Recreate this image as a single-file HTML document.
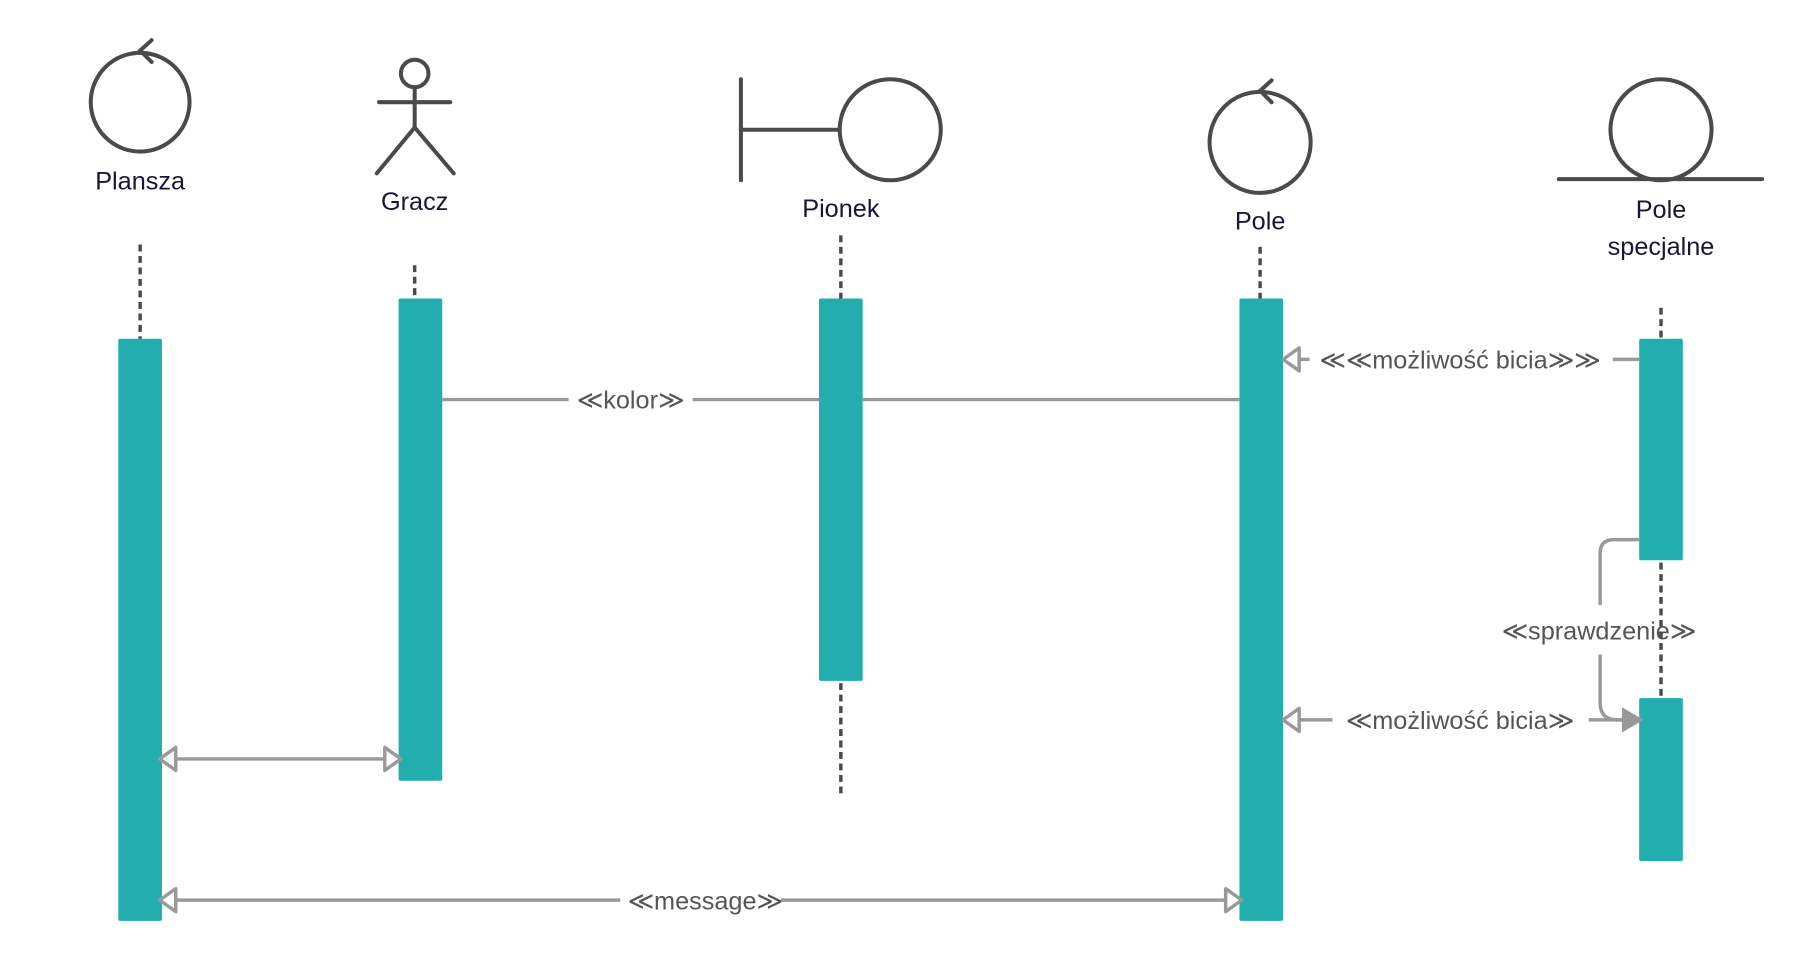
<!DOCTYPE html>
<html><head><meta charset="utf-8"><style>
html,body{margin:0;padding:0;background:#fff;}
svg{display:block;}
text{font-family:"Liberation Sans",sans-serif;}
</style></head><body>
<svg width="1800" height="961" viewBox="0 0 1567 837" preserveAspectRatio="none" xmlns="http://www.w3.org/2000/svg">
<g fill="none" stroke="#4a4a4a" stroke-width="3.5" stroke-linecap="round">
  <g>
    <circle cx="122" cy="89" r="43"/>
    <polyline points="132,35 122,44 132,54"/>
  </g>
  <g>
    <circle cx="361" cy="64" r="12"/>
    <line x1="330" y1="89" x2="392" y2="89"/>
    <line x1="361" y1="76" x2="361" y2="111"/>
    <line x1="361" y1="111" x2="328" y2="151"/>
    <line x1="361" y1="111" x2="395" y2="151"/>
  </g>
  <g>
    <line x1="645" y1="69" x2="645" y2="157"/>
    <line x1="645" y1="113" x2="731" y2="113"/>
    <circle cx="775" cy="113" r="44"/>
  </g>
  <g>
    <circle cx="1097" cy="124" r="44"/>
    <polyline points="1107,70 1097,79 1107,89"/>
  </g>
  <g>
    <circle cx="1446" cy="113" r="44"/>
    <line x1="1357" y1="156" x2="1534" y2="156"/>
  </g>
</g>
<g fill="#16163a" font-size="22" text-anchor="middle">
  <text x="122" y="165">Plansza</text>
  <text x="361" y="183">Gracz</text>
  <text x="732" y="189">Pionek</text>
  <text x="1097" y="200">Pole</text>
  <text x="1446" y="190">Pole</text>
  <text x="1446" y="222">specjalne</text>
</g>
<g fill="#22aeae">
  <rect x="103" y="295" width="38" height="507" rx="1.5"/>
  <rect x="347" y="260" width="38" height="420" rx="1.5"/>
  <rect x="713" y="260" width="38" height="333" rx="1.5"/>
  <rect x="1079" y="260" width="38" height="542" rx="1.5"/>
  <rect x="1427" y="295" width="38" height="193" rx="1.5"/>
  <rect x="1427" y="608" width="38" height="142" rx="1.5"/>
</g>
<g fill="none" stroke="#999" stroke-width="3" stroke-linejoin="round">
  <g>
    <line x1="385" y1="348" x2="495" y2="348"/>
    <line x1="603" y1="348" x2="713" y2="348"/>
    <line x1="751" y1="348" x2="1079" y2="348"/>
  </g>
  <g>
    <line x1="1404" y1="313" x2="1427" y2="313"/>
    <line x1="1130" y1="313" x2="1140" y2="313"/>
    <polygon points="1117,313 1131,303 1131,323"/>
  </g>
  <g>
    <path d="M1427,470 H1405 Q1393,470 1393,482 V527"/>
    <path d="M1393,570 V612 Q1393,627 1408,627 H1415"/>
  </g>
  <g>
    <line x1="1130" y1="627" x2="1160" y2="627"/>
    <polygon points="1117,627 1131,617 1131,637"/>
    <line x1="1383" y1="627" x2="1412" y2="627"/>
  </g>
  <g>
    <line x1="152" y1="661" x2="336" y2="661"/>
    <polygon points="139,661 153,651 153,671"/>
    <polygon points="349,661 335,651 335,671"/>
  </g>
  <g>
    <line x1="152" y1="784" x2="540" y2="784"/>
    <line x1="680" y1="784" x2="1068" y2="784"/>
    <polygon points="139,784 153,774 153,794"/>
    <polygon points="1081,784 1067,774 1067,794"/>
  </g>
</g>
<polygon points="1431,627 1412,616 1412,638" fill="#999"/>
<g fill="#555" font-size="22" text-anchor="middle">
  <text x="549" y="356">≪kolor≫</text>
  <text x="1271" y="321">≪≪możliwość bicia≫≫</text>
  <text x="1392" y="557">≪sprawdzenie≫</text>
  <text x="1271" y="635">≪możliwość bicia≫</text>
  <text x="614" y="792">≪message≫</text>
</g>
<g stroke="#4a4a4a" stroke-width="3" stroke-dasharray="6,4" fill="none">
  <line x1="122" y1="213" x2="122" y2="295"/>
  <line x1="361" y1="231" x2="361" y2="260"/>
  <line x1="732" y1="205" x2="732" y2="260"/>
  <line x1="732" y1="595" x2="732" y2="692"/>
  <line x1="1097" y1="215" x2="1097" y2="260"/>
  <line x1="1446" y1="268" x2="1446" y2="295"/>
  <line x1="1446" y1="490" x2="1446" y2="608"/>
</g>
</svg>
</body></html>
